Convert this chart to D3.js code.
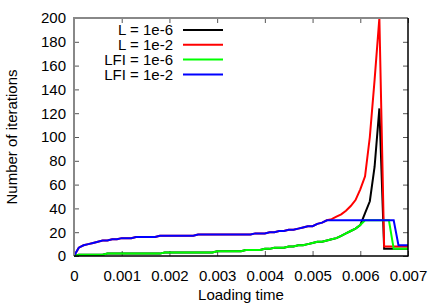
<!DOCTYPE html>
<html>
<head>
<meta charset="utf-8">
<script src="https://cdn.jsdelivr.net/npm/d3@7"></script>
<style>
  body { margin: 0; background: #fff; }
  svg { display: block; font-family: "Liberation Sans", Arial, sans-serif; }
</style>
</head>
<body>
<div id="chart"></div>
<script>
// loading time samples
let times = [
  0, 0.0001, 0.0002, 0.0003, 0.0004, 0.0005, 0.0006, 0.0007, 0.0008, 0.0009,
  0.0010, 0.0011, 0.0012, 0.0013, 0.0014, 0.0015, 0.0016, 0.0017, 0.0018, 0.0019,
  0.0020, 0.0021, 0.0022, 0.0023, 0.0024, 0.0025, 0.0026, 0.0027, 0.0028, 0.0029,
  0.0030, 0.0031, 0.0032, 0.0033, 0.0034, 0.0035, 0.0036, 0.0037, 0.0038, 0.0039,
  0.0040, 0.0041, 0.0042, 0.0043, 0.0044, 0.0045, 0.0046, 0.0047, 0.0048, 0.0049,
  0.0050, 0.0051, 0.0052, 0.0053, 0.0054, 0.0055, 0.0056, 0.0057, 0.0058, 0.0059,
  0.0060, 0.0061, 0.0062, 0.0063, 0.0064, 0.0065, 0.0066, 0.0067, 0.0068, 0.0069,
  0.0070
];

// number of iterations per series
let l6 = [
  0, 1, 1, 1, 1, 1, 1, 2, 2, 2,
  2, 2, 2, 2, 2, 2, 2, 2, 2, 3,
  3, 3, 3, 3, 3, 3, 3, 3, 3, 3,
  4, 4, 4, 4, 4, 4, 5, 5, 5, 5,
  6, 6, 7, 7, 7, 8, 8, 9, 9, 10,
  11, 12, 12, 13, 14, 15, 17, 19, 21, 23,
  26, 36, 46, 75, 124, 6, 6, 6, 6, 6,
  6
];
let l2 = [
  0, 7, 9, 10, 11, 12, 13, 13, 14, 14,
  15, 15, 15, 16, 16, 16, 16, 16, 17, 17,
  17, 17, 17, 17, 17, 17, 18, 18, 18, 18,
  18, 18, 18, 18, 18, 18, 18, 18, 19, 19,
  19, 20, 20, 21, 21, 22, 22, 23, 24, 25,
  25, 27, 28, 30, 31, 33, 35, 38, 42, 47,
  56, 67, 100, 148, 200, 8, 8, 8, 8, 8,
  8
];
let lfi6 = [
  0, 1, 1, 1, 1, 1, 1, 2, 2, 2,
  2, 2, 2, 2, 2, 2, 2, 2, 2, 3,
  3, 3, 3, 3, 3, 3, 3, 3, 3, 3,
  4, 4, 4, 4, 4, 4, 5, 5, 5, 5,
  6, 6, 7, 7, 7, 8, 8, 9, 9, 10,
  11, 12, 12, 13, 14, 15, 17, 19, 21, 23,
  26, 30, 30, 30, 30, 30, 30, 6, 6, 6,
  6
];
let lfi2 = [
  0, 7, 9, 10, 11, 12, 13, 13, 14, 14,
  15, 15, 15, 16, 16, 16, 16, 16, 17, 17,
  17, 17, 17, 17, 17, 17, 18, 18, 18, 18,
  18, 18, 18, 18, 18, 18, 18, 18, 19, 19,
  19, 20, 20, 21, 21, 22, 22, 23, 24, 25,
  25, 27, 28, 30, 30, 30, 30, 30, 30, 30,
  30, 30, 30, 30, 30, 30, 30, 30, 9, 9,
  9
];

let seriesNames = ["L = 1e-6", "L = 1e-2", "LFI = 1e-6", "LFI = 1e-2"];
let seriesColors = ["#000000", "#ff0000", "#00ff00", "#0000ff"];
let seriesValues = [l6, l2, lfi6, lfi2];

let xTicks = [0, 0.001, 0.002, 0.003, 0.004, 0.005, 0.006, 0.007];
let yTicks = [0, 20, 40, 60, 80, 100, 120, 140, 160, 180, 200];

// Chart dimensions
let W = 436, H = 305;
let margin = { top: 18, right: 28, bottom: 49, left: 74 };
let width = W - margin.left - margin.right;
let height = H - margin.top - margin.bottom;

let svg = d3.select("#chart")
    .append("svg")
    .attr("width", W)
    .attr("height", H);

let g = svg.append("g")
    .attr("transform", `translate(${margin.left},${margin.top})`);

// Scales
let xScale = d3.scaleLinear().domain([0, 0.007]).range([0, width]);
let yScale = d3.scaleLinear().domain([0, 200]).range([height, 0]);

// Bottom + top ticks (inward)
g.append("g")
    .attr("transform", `translate(0,${height})`)
    .call(d3.axisBottom(xScale).tickValues(xTicks).tickSize(-5).tickPadding(14)
        .tickFormat(d => d === 0 ? "0" : d3.format(".3f")(d)))
    .call(a => a.select(".domain").remove())
    .call(a => a.selectAll("text").attr("font-size", 15).attr("fill", "#000").attr("font-family", null));

g.append("g")
    .call(d3.axisTop(xScale).tickValues(xTicks).tickSize(-5).tickFormat(""))
    .call(a => a.select(".domain").remove());

// Left + right ticks (inward)
g.append("g")
    .call(d3.axisLeft(yScale).tickValues(yTicks).tickSize(-5).tickPadding(8))
    .call(a => a.select(".domain").remove())
    .call(a => a.selectAll("text").attr("font-size", 15).attr("fill", "#000").attr("font-family", null));

g.append("g")
    .attr("transform", `translate(${width},0)`)
    .call(d3.axisRight(yScale).tickValues(yTicks).tickSize(-5).tickFormat(""))
    .call(a => a.select(".domain").remove());

g.selectAll(".tick line").attr("stroke", "#555");

// Lines
let line = d3.line()
    .x((d, i) => xScale(times[i]))
    .y(d => yScale(d));

seriesValues.forEach(function(vals, k) {
    g.append("path")
        .datum(vals)
        .attr("fill", "none")
        .attr("stroke", seriesColors[k])
        .attr("stroke-width", 2)
        .attr("stroke-linejoin", "miter")
        .attr("d", line);
});

// Border
g.append("path")
    .attr("d", `M0,${height}V0H${width}`)
    .attr("fill", "none")
    .attr("stroke", "#888")
    .attr("stroke-width", 2);
g.append("path")
    .attr("d", `M${width},0V${height}H0`)
    .attr("fill", "none")
    .attr("stroke", "#000")
    .attr("stroke-width", 1.5);

// Legend
let legend = g.append("g").attr("transform", "translate(99,12)");
seriesNames.forEach(function(name, k) {
    let row = legend.append("g").attr("transform", `translate(0,${k * 14.8})`);
    row.append("text")
        .attr("x", 0)
        .attr("dy", "0.35em")
        .attr("text-anchor", "end")
        .attr("font-size", 15)
        .text(name);
    row.append("line")
        .attr("x1", 10).attr("x2", 50)
        .attr("stroke", seriesColors[k])
        .attr("stroke-width", 2);
});

// Axis labels
svg.append("text")
    .attr("x", margin.left + width / 2)
    .attr("y", 300)
    .attr("text-anchor", "middle")
    .attr("font-size", 15)
    .text("Loading time");

svg.append("text")
    .attr("transform", `translate(17,${margin.top + height / 2}) rotate(-90)`)
    .attr("text-anchor", "middle")
    .attr("font-size", 15)
    .text("Number of iterations");
</script>
</body>
</html>
